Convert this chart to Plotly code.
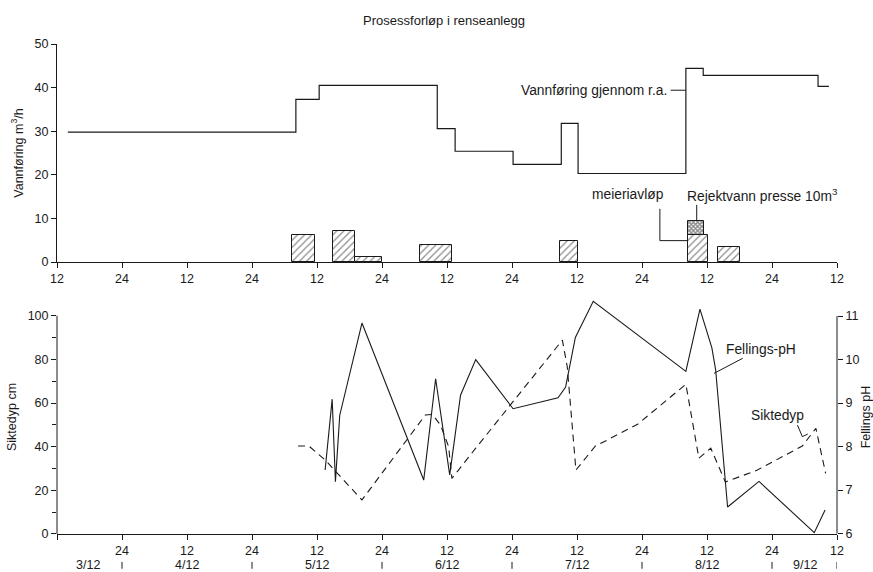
import plotly.graph_objects as go

# ---------------- data (hours counted from 3/12 kl. 12) ----------------
# Vannføring gjennom renseanlegg (step line)
flow_step_h = [2, 44.1, 48.4, 70.2, 73.5, 84.2, 93.1, 96.2, 116.1, 119.3, 140.5, 142.5]
flow_value = [29.8, 37.3, 40.5, 30.6, 25.4, 22.4, 31.8, 20.3, 44.4, 42.8, 40.3]

# Meieriavløp bars (hatched)
bar_start = [43.4, 50.9, 55.0, 67.1, 92.9, 116.5, 122.0]
bar_end = [47.6, 55.0, 60.0, 73.0, 96.2, 120.2, 126.0]
bar_value = [6.2, 7.2, 1.1, 4.0, 4.9, 6.2, 3.4]

# Rejektvann presse 10 m3 (cross hatched, stacked on bar at 8/12)
rej_start = [116.5]
rej_end = [119.4]
rej_base = [6.2]
rej_top = [9.5]

# Siktedyp cm (dashed)
sikt_h = [44.5, 46.5, 49.5, 56.3, 68.0, 69.3, 70.8, 72.3, 72.9, 77.3, 93.3, 94.2,
          95.8, 99.4, 101.0, 107.2, 116.1, 118.5, 120.7, 123.4, 129.3, 137.6, 140.1, 141.9]
sikt_cm = [40.3, 40.3, 33.9, 15.6, 54.5, 54.8, 49.9, 40.0, 25.5, 39.3, 88.8, 76.6,
           29.3, 40.3, 42.3, 50.3, 68.6, 34.7, 39.3, 23.8, 29.3, 40.3, 48.4, 27.8]

# Fellings-pH (solid)
ph_h = [49.5, 50.8, 51.4, 52.2, 56.3, 67.7, 69.9, 72.5, 74.5, 77.3, 84.2, 92.5,
        93.9, 95.7, 99.0, 116.1, 118.7, 120.9, 121.6, 123.8, 129.6, 139.8, 141.8]
ph_val = [7.46, 9.09, 7.19, 8.72, 10.84, 7.23, 9.56, 7.35, 9.18, 10.0, 8.87, 9.12,
          9.37, 10.51, 11.34, 9.73, 11.16, 10.27, 9.76, 6.61, 7.20, 6.02, 6.54]

# axes / tick labels
tick_h = [0, 12, 24, 36, 48, 60, 72, 84, 96, 108, 120, 132, 144]
top_tick_text = ["12", "24", "12", "24", "12", "24", "12", "24", "12", "24", "12", "24", "12"]
bottom_tick_text = ["", "24", "12", "24", "12", "24", "12", "24", "12", "24", "12", "24", "12"]
date_h = [5.7, 24, 48, 72, 96, 120, 138.0]
date_text = ["3/12", "4/12", "5/12", "6/12", "7/12", "8/12", "9/12"]
midnight_mark_h = [12, 36, 60, 84, 108, 132, 144]

flow_ticks = [0, 10, 20, 30, 40, 50]
sikt_ticks = [0, 20, 40, 60, 80, 100]
ph_ticks = [6, 7, 8, 9, 10, 11]

FONT = "Liberation Sans, Arial, sans-serif"
INK = "#1a1a1a"

fig = go.Figure()

fig.add_trace(go.Scatter(
    x=flow_step_h, y=flow_value + [flow_value[-1]], mode="lines",
    line=dict(shape="hv", color=INK, width=1.2), xaxis="x", yaxis="y"))

fig.add_trace(go.Bar(
    x=[(a + b) / 2 for a, b in zip(bar_start, bar_end)],
    y=bar_value, width=[b - a for a, b in zip(bar_start, bar_end)], base=0,
    marker=dict(color="white", line=dict(color=INK, width=1),
                pattern=dict(shape="/", fgcolor=INK, bgcolor="white", size=5, solidity=0.25)),
    xaxis="x", yaxis="y"))

fig.add_trace(go.Bar(
    x=[(a + b) / 2 for a, b in zip(rej_start, rej_end)],
    y=[t - b for t, b in zip(rej_top, rej_base)],
    width=[b - a for a, b in zip(rej_start, rej_end)], base=rej_base,
    marker=dict(color="white", line=dict(color=INK, width=1),
                pattern=dict(shape="x", fgcolor=INK, bgcolor="white", size=3, solidity=0.7)),
    xaxis="x", yaxis="y"))

fig.add_trace(go.Scatter(
    x=sikt_h, y=sikt_cm, mode="lines",
    line=dict(color=INK, width=1.1, dash="7px,5px"), xaxis="x2", yaxis="y2"))

fig.add_trace(go.Scatter(
    x=ph_h, y=ph_val, mode="lines",
    line=dict(color=INK, width=1.1), xaxis="x2", yaxis="y3"))

tickfont = dict(family=FONT, size=12.5, color=INK)

fig.update_layout(
    width=873, height=572,
    margin=dict(l=57, r=36, t=44, b=38),
    paper_bgcolor="white", plot_bgcolor="white",
    showlegend=False, barmode="overlay", bargap=0,
    font=dict(family=FONT, color=INK),
    title=dict(text="Prosessforløp i renseanlegg", x=0.5086, y=0.964,
               xanchor="center", yanchor="middle",
               font=dict(family=FONT, size=13, color=INK)),
    xaxis=dict(domain=[0, 1], anchor="y", range=[0, 144], showgrid=False, zeroline=False,
               showline=True, linecolor=INK, linewidth=1, ticks="outside", ticklen=5,
               tickcolor=INK, tickvals=tick_h, ticktext=top_tick_text, tickfont=tickfont,
               automargin=False),
    yaxis=dict(domain=[0.5551, 1], anchor="x", range=[0, 50], showgrid=False, zeroline=False,
               showline=True, linecolor=INK, linewidth=1, ticks="outside", ticklen=5,
               tickcolor=INK, tickvals=flow_ticks, tickfont=tickfont, automargin=False,
               title=dict(text="Vannføring m<sup>3</sup>/h", standoff=8,
                          font=dict(family=FONT, size=12.5, color=INK))),
    xaxis2=dict(domain=[0, 1], anchor="y2", range=[0, 144], showgrid=False, zeroline=False,
                showline=True, linecolor=INK, linewidth=1, ticks="outside", ticklen=5,
                tickcolor=INK, tickvals=tick_h, ticktext=bottom_tick_text, tickfont=tickfont,
                automargin=False),
    yaxis2=dict(domain=[0, 0.4776], anchor="x2", range=[0, 107.2], showgrid=False,
                zeroline=False, showline=False, ticks="outside", ticklen=5, tickcolor=INK,
                tickvals=sikt_ticks, tickfont=tickfont, automargin=False,
                minor=dict(tickmode="linear", tick0=0, dtick=10, ticks="outside",
                           ticklen=4, tickcolor=INK),
                title=dict(text="Siktedyp cm", standoff=8,
                           font=dict(family=FONT, size=12.5, color=INK))),
    yaxis3=dict(overlaying="y2", anchor="x2", side="right", range=[5.99, 11.37],
                showgrid=False, zeroline=False, showline=False, ticks="outside", ticklen=5,
                tickcolor=INK, tickvals=ph_ticks, tickfont=tickfont, automargin=False,
                title=dict(text="Fellings pH", standoff=4,
                           font=dict(family=FONT, size=12.5, color=INK))),
)

# axis lines of the lower panel (only over the labelled span)
fig.add_shape(type="line", xref="x2 domain", yref="y2", x0=0, x1=0,
              y0=sikt_ticks[0], y1=sikt_ticks[-1], line=dict(color=INK, width=1))
fig.add_shape(type="line", xref="x2 domain", yref="y3", x0=1, x1=1,
              y0=ph_ticks[0], y1=ph_ticks[-1], line=dict(color=INK, width=1))

# date row under lower axis
for h, t in zip(date_h, date_text):
    fig.add_annotation(x=h, xref="x2", y=-0.064, yref="paper", text=t, showarrow=False,
                       xanchor="center", yanchor="middle",
                       font=dict(family=FONT, size=12.5, color=INK))
for h in midnight_mark_h:
    fig.add_shape(type="line", xref="x2", yref="paper", x0=h, x1=h, y0=-0.057, y1=-0.071,
                  line=dict(color=INK, width=1))

ann_font = dict(family=FONT, size=13.8, color=INK)
leader = dict(color=INK, width=1)

# upper panel labels + leaders
fig.add_annotation(x=112.9, y=39.4, xref="x", yref="y", text="Vannføring gjennom r.a.",
                   showarrow=False, xanchor="right", yanchor="middle", font=ann_font)
fig.add_shape(type="line", xref="x", yref="y", x0=113.3, x1=116.1, y0=39.4, y1=39.4, line=leader)
fig.add_annotation(x=105.4, y=15.4, xref="x", yref="y", text="meieriavløp",
                   showarrow=False, xanchor="center", yanchor="middle", font=ann_font)
fig.add_shape(type="path", xref="x", yref="y",
              path="M 111.3 12.2 L 111.3 4.9 L 116.5 4.9", line=leader)
fig.add_annotation(x=116.0, y=15.4, xref="x", yref="y", text="Rejektvann presse 10m<sup>3</sup>",
                   showarrow=False, xanchor="left", yanchor="middle", font=ann_font)
fig.add_shape(type="line", xref="x", yref="y", x0=118.1, x1=118.1, y0=13.1, y1=9.5, line=leader)

# lower panel labels + leaders
fig.add_annotation(x=130.0, y=84.5, xref="x2", yref="y2", text="Fellings-pH",
                   showarrow=False, xanchor="center", yanchor="middle", font=ann_font)
fig.add_shape(type="line", xref="x2", yref="y2", x0=126.6, x1=121.3, y0=80.5, y1=73.6, line=leader)
fig.add_annotation(x=133.1, y=54.1, xref="x2", yref="y2", text="Siktedyp",
                   showarrow=False, xanchor="center", yanchor="middle", font=ann_font)
fig.add_shape(type="path", xref="x2", yref="y2",
              path="M 136.7 49.9 L 137.6 44.6 L 138.6 45.8", line=leader)

fig.write_html("out.html")
